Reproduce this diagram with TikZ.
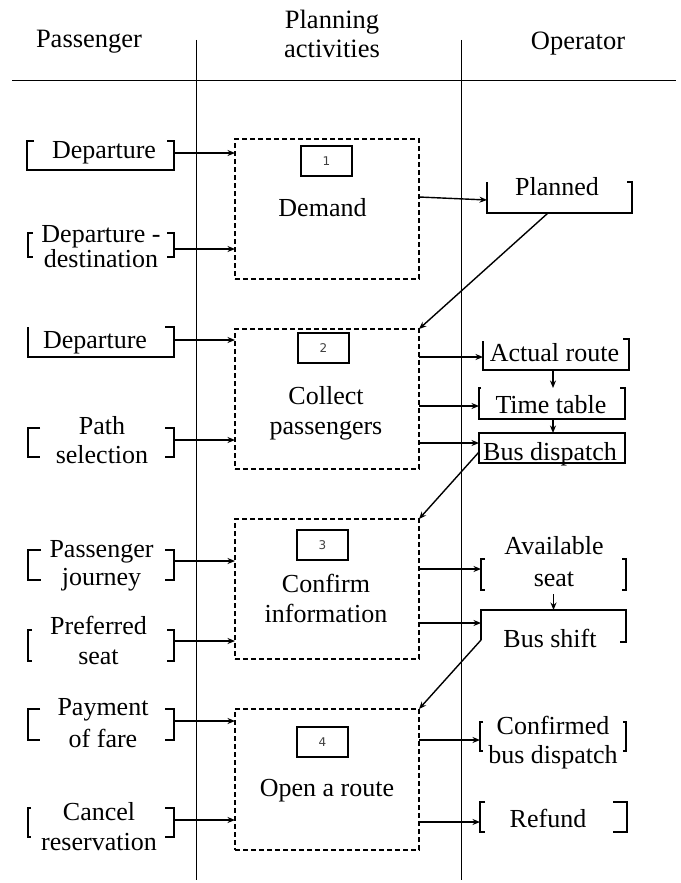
\documentclass[tikz,border=0pt]{standalone}
\usepackage{fontspec}
\setmainfont{Liberation Serif}
\newfontfamily\numfont{DejaVu Sans}
\usetikzlibrary{calc,arrows.meta}
\tikzset{
  tx/.style={anchor=base, inner sep=0pt, font=\fontsize{26}{30}\selectfont},
  hd/.style={anchor=base, inner sep=0pt, font=\fontsize{26.5}{30}\selectfont},
  fr/.style={inner sep=0pt, outer sep=0pt},
  dbox/.style={draw, dash pattern=on 5pt off 3pt, line width=1.4pt, minimum width=184pt, minimum height=140pt, inner sep=0pt, outer sep=0pt},
  nbox/.style={draw, line width=1.2pt, minimum width=51pt, minimum height=30pt, inner sep=0pt, font=\numfont\fontsize{12}{14}\selectfont, text=black!75},
  brk/.style={line width=1.4pt},
  lane/.style={line width=1pt},
  arr/.style={line width=1.4pt, -{Stealth[length=7.5pt,width=6pt]}}
}
\newcommand\mylb[3]{\draw[brk] ($(#1.north west)+(#2,0)$) -- (#1.north west) -- (#1.south west) -- ($(#1.south west)+(#3,0)$);}
\newcommand\myrb[3]{\draw[brk] ($(#1.north east)+(-#2,0)$) -- (#1.north east) -- (#1.south east) -- ($(#1.south east)+(-#3,0)$);}
\newcommand\myopen[3]{\draw[brk] ($(#1.north west)+(#2,0)$) -- (#1.north west) -- (#1.south west) -- (#1.south east) -- (#1.north east) -- ($(#1.north east)+(-#3,0)$);}
\begin{document}
\begin{tikzpicture}[x=1pt,y=-1pt]
\useasboundingbox (0,0) rectangle (680,883);
% lanes
\draw[lane] (12,80) -- (676,80);
\draw[lane] (196,40) -- (196,880);
\draw[lane] (461,40) -- (461,880);
% headers
\node[hd] (hpass) at (89,48) {Passenger};
\node[hd] (hplan1) at (332,29) {Planning};
\node[hd] (hplan2) at (332,58) {activities};
\node[hd] (hop) at (578,50) {Operator};
% dashed activity boxes
\node[dbox] (b1) at (327,209) {};
\node[dbox] (b2) at (327,399) {};
\node[dbox] (b3) at (327,589) {};
\node[dbox, minimum height=141pt] (b4) at (327,779.5) {};
\node[nbox] (n1) at (326.5,161) {1};
\node[nbox] (n2) at (323.5,348) {2};
\node[nbox] (n3) at (322.5,545) {3};
\node[nbox] (n4) at (322.5,742) {4};
\node[tx] (t1) at (322.5,216) {Demand};
\node[tx] (t2a) at (326,404) {Collect};
\node[tx] (t2b) at (326,434) {passengers};
\node[tx] (t3a) at (326,592) {Confirm};
\node[tx] (t3b) at (326,622) {information};
\node[tx] (t4) at (327,796) {Open a route};
% passenger frames
\node[fr, minimum width=147pt, minimum height=29pt] (L1) at (100.5,155.5) {};
\node[fr, minimum width=146pt, minimum height=24pt] (L2) at (101,245) {};
\node[fr, minimum width=146pt, minimum height=30pt] (L3) at (101,342) {};
\node[fr, minimum width=146pt, minimum height=29pt] (L4) at (101,442.5) {};
\node[fr, minimum width=146pt, minimum height=30pt] (L5) at (101,565) {};
\node[fr, minimum width=146pt, minimum height=31pt] (L6) at (101,645.5) {};
\node[fr, minimum width=146pt, minimum height=31pt] (L7) at (101,724.5) {};
\node[fr, minimum width=146pt, minimum height=29pt] (L8) at (101,822.5) {};
\myopen{L1}{7}{7}
\mylb{L2}{5}{5} \myrb{L2}{7}{7}
\myopen{L3}{0}{9}
\mylb{L4}{12}{12} \myrb{L4}{9}{9}
\mylb{L5}{13}{13} \myrb{L5}{9}{9}
\mylb{L6}{4}{4} \myrb{L6}{7}{7}
\mylb{L7}{12}{12} \myrb{L7}{9}{9}
\mylb{L8}{3}{3} \myrb{L8}{9}{9}
\node[tx] (l1) at (104,158) {Departure};
\node[tx] (l2a) at (101,242) {Departure -};
\node[tx] (l2b) at (101,267) {destination};
\node[tx] (l3) at (95,348) {Departure};
\node[tx] (l4a) at (102,434) {Path};
\node[tx] (l4b) at (102,463) {selection};
\node[tx] (l5a) at (101.5,557) {Passenger};
\node[tx] (l5b) at (101.5,585) {journey};
\node[tx] (l6a) at (98.5,634) {Preferred};
\node[tx] (l6b) at (98.5,664) {seat};
\node[tx] (l7a) at (103,715) {Payment};
\node[tx] (l7b) at (103,747) {of fare};
\node[tx] (l8a) at (99,820) {Cancel};
\node[tx] (l8b) at (99,850) {reservation};
% operator frames
\node[fr, minimum width=145pt, minimum height=31pt] (R1) at (559.5,197.5) {};
\node[fr, minimum width=146pt, minimum height=31pt] (R2) at (556,354.5) {};
\node[fr, minimum width=146pt, minimum height=31pt] (R3) at (552,403.5) {};
\node[fr, minimum width=146pt, minimum height=30pt] (R4) at (552,448) {};
\node[fr, minimum width=145pt, minimum height=31pt] (R5) at (553.5,574.5) {};
\node[fr, minimum width=145pt, minimum height=32pt] (R6) at (553.5,626) {};
\node[fr, minimum width=146pt, minimum height=29pt] (R7) at (553,736.5) {};
\node[fr, minimum width=147pt, minimum height=30pt] (R8) at (553.5,817) {};
\myopen{R1}{0}{5}
\draw[brk] ([yshift=-2pt]R2.north west) -- (R2.south west) -- (R2.south east) -- (R2.north east) -- ++(-6,0);
\myopen{R3}{2}{5}
\draw[brk] (R4.north west) rectangle (R4.south east);
\mylb{R5}{4}{4} \myrb{R5}{4}{4}
\draw[brk] ([yshift=2pt]R6.south west) -- (R6.north west) -- (R6.north east) -- (R6.south east) -- ++(-6,0);
\mylb{R7}{3}{3} \myrb{R7}{3}{3}
\mylb{R8}{5}{5} \myrb{R8}{14}{14}
\node[tx] (r1) at (557,195) {Planned};
\node[tx] (r2) at (554.5,361) {Actual route};
\node[tx] (r3) at (551,413) {Time table};
\node[tx] (r4) at (550,460) {Bus dispatch};
\node[tx] (r5a) at (554,554) {Available};
\node[tx] (r5b) at (554,586) {seat};
\node[tx] (r6) at (550,647) {Bus shift};
\node[tx] (r7a) at (553,734) {Confirmed};
\node[tx] (r7b) at (553,763) {bus dispatch};
\node[tx] (r8) at (548,827) {Refund};
% passenger -> activities
\draw[arr] ([yshift=2.5pt]L1.east) -- ([yshift=2.5pt]L1.east -| b1.west);
\draw[arr] ([yshift=-4pt]L2.east) -- ([yshift=-4pt]L2.east -| b1.west);
\draw[arr] ([yshift=2pt]L3.east) -- ([yshift=2pt]L3.east -| b2.west);
\draw[arr] ([yshift=2.5pt]L4.east) -- ([yshift=2.5pt]L4.east -| b2.west);
\draw[arr] ([yshift=4pt]L5.east) -- ([yshift=4pt]L5.east -| b3.west);
\draw[arr] ([yshift=4.5pt]L6.east) -- ([yshift=4.5pt]L6.east -| b3.west);
\draw[arr] ([yshift=3.5pt]L7.east) -- ([yshift=3.5pt]L7.east -| b4.west);
\draw[arr] ([yshift=2.5pt]L8.east) -- ([yshift=2.5pt]L8.east -| b4.west);
% activities -> operator
\draw[arr] ([yshift=12pt]b1.east) -- ([yshift=-2.5pt]R1.west);
\draw[arr] ([xshift=-11.5pt]R1.south) -- (b2.north east);
\draw[arr] ([yshift=-2.5pt]R2.west -| b2.east) -- ([yshift=-2.5pt]R2.west);
\draw[arr] ([yshift=-2.5pt]R3.west -| b2.east) -- ([yshift=-2.5pt]R3.west);
\draw[arr] ([yshift=5pt]R4.west -| b2.east) -- ([yshift=5pt]R4.west);
\draw[arr] ([xshift=-3pt]R2.south) -- ([xshift=-3pt]R2.south |- R3.north);
\draw[arr] ([xshift=1pt]R3.south) -- ([xshift=1pt]R3.south |- R4.north);
\draw[arr] ([yshift=-4pt]R4.west) -- (b3.north east);
\draw[arr] ([yshift=5.5pt]R5.west -| b3.east) -- ([yshift=5.5pt]R5.west);
\draw[arr] ([yshift=3pt]R6.west -| b3.east) -- ([yshift=3pt]R6.west);
\draw[arr] ([yshift=-4pt]R5.south) -- (R5.south |- R6.north);
\draw[arr] ([yshift=2pt]R6.south west) -- (b4.north east);
\draw[arr] ([yshift=-3.5pt]R7.west -| b4.east) -- ([yshift=-3.5pt]R7.west);
\draw[arr] ([yshift=-5pt]R8.west -| b4.east) -- ([yshift=-5pt]R8.west);
\end{tikzpicture}
\end{document}
